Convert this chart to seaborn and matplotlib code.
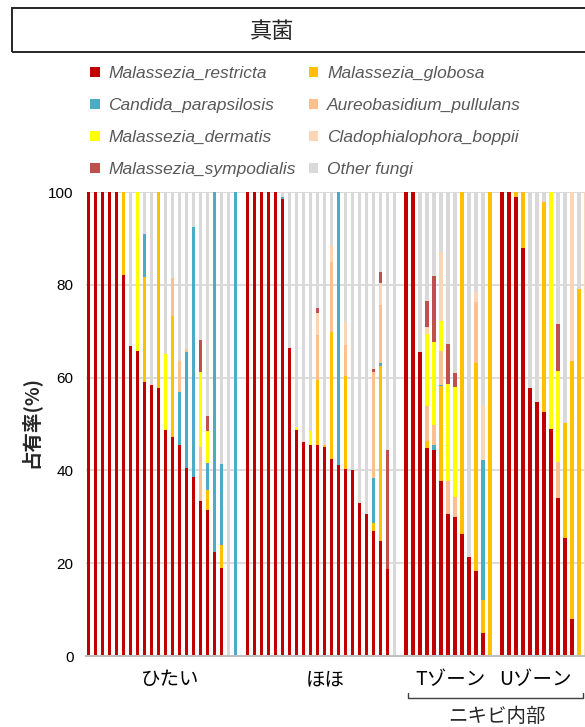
import numpy as np
import pandas as pd
import matplotlib
matplotlib.use("Agg")
import matplotlib.pyplot as plt
import matplotlib.transforms as mtransforms
from matplotlib.patches import Patch, Rectangle
from matplotlib.lines import Line2D
from matplotlib.font_manager import FontProperties
import seaborn as sns

# ---------------- data ----------------
species = ["Malassezia_restricta", "Malassezia_globosa", "Candida_parapsilosis",
           "Aureobasidium_pullulans", "Malassezia_dermatis", "Cladophialophora_boppii",
           "Malassezia_sympodialis", "Other fungi"]
colors = ["#C00000", "#FFC000", "#4BACC6", "#FAC090", "#FFFF00", "#FCD5B5",
          "#C0504D", "#D9D9D9"]

group_names = ["ひたい", "ほほ", "Tゾーン", "Uゾーン"]
group_sizes = [22, 22, 13, 13]
bracket_label = "ニキビ内部"
title = "真菌"
y_label = "占有率(%)"
y_ticks = [0, 20, 40, 60, 80, 100]

restricta = [100, 100, 100, 100, 100, 82.1, 66.9, 65.8, 59.1, 58.5, 57.7, 48.7, 47.1, 45.5, 40.6, 38.6, 33.4, 31.5, 22.5, 19.0, 0, 0,
             100, 100, 100, 100, 100, 98.5, 66.3, 48.6, 46.2, 45.5, 45.5, 45.0, 42.4, 41.2, 40.3, 40.1, 32.9, 30.6, 26.9, 24.8, 18.8, 0,
             100, 100, 65.6, 44.9, 44.5, 37.7, 30.7, 30.0, 26.4, 21.3, 18.4, 4.9, 0,
             100, 100, 98.9, 88.0, 57.7, 54.7, 52.5, 48.9, 34.0, 25.5, 8.0, 0, 0]
globosa = [0, 0, 0, 0, 0, 17.9, 0, 0, 22.5, 0, 42.3, 0, 26.2, 0, 0, 0, 0, 4.3, 0, 4.9, 0, 0,
           0, 0, 0, 0, 0, 0, 0, 0, 0, 0, 14.0, 0.4, 27.5, 0, 20.0, 0, 0, 0, 1.8, 37.7, 0, 0,
           0, 0, 0, 1.4, 0, 20.5, 0, 0, 73.6, 0, 44.7, 7.2, 100,
           0, 0, 1.1, 12.0, 0, 0, 45.4, 0, 0, 24.8, 55.6, 79.2, 0]
candida = [0, 0, 0, 0, 0, 0, 0, 0, 9.3, 0, 0, 0, 0, 11.3, 25.0, 53.9, 0, 5.7, 77.5, 17.4, 0, 100,
           0, 0, 0, 0, 0, 0.5, 0, 0, 0, 0, 0, 0, 0, 58.8, 0, 0, 0, 0, 9.7, 0.7, 0, 0,
           0, 0, 0, 0, 1.0, 0.3, 0, 0, 0, 0, 0, 30.1, 0,
           0, 0, 0, 0, 0, 0, 0, 0, 0, 0, 0, 0, 0]
aureobasidium = [0, 0, 0, 0, 0, 0, 0, 0, 0, 0, 0, 0, 8.1, 6.8, 0.5, 0, 11.7, 0, 0, 0, 0, 0,
                 0, 0, 0, 0, 0, 0, 0, 0, 0, 0, 9.7, 0, 15.1, 0, 6.7, 0, 0, 0, 22.9, 12.4, 0, 0,
                 0, 0, 0, 7.6, 4.3, 7.3, 7.1, 4.3, 0, 0, 13.3, 0, 0,
                 0, 0, 0, 0, 0, 0, 0, 0, 7.9, 0, 0, 0, 0]
dermatis = [0, 0, 0, 0, 0, 0, 0, 34.2, 0, 0, 0, 16.4, 0, 0, 0, 0, 16.0, 6.9, 0, 0, 0, 0,
            0, 0, 0, 0, 0, 0, 0, 0.8, 0, 2.9, 0, 0, 0, 0, 0, 0, 0, 0, 0, 0, 0, 0,
            0, 0, 0, 15.5, 17.9, 6.3, 20.8, 23.7, 0, 0, 0, 0, 0,
            0, 0, 0, 0, 0, 0, 0, 51.1, 19.6, 0, 0, 0, 0]
cladophialophora = [0, 0, 0, 0, 0, 0, 0, 0, 0, 0, 0, 0, 0, 0, 0, 0, 0, 0, 0, 0, 0, 0,
                    0, 0, 0, 0, 0, 0, 0, 0, 0, 0, 4.8, 0, 3.6, 0, 4.9, 0, 0, 0, 0, 4.7, 0, 0,
                    0, 0, 0, 1.4, 0, 14.9, 0, 0, 0, 0, 2.0, 12.0, 0,
                    0, 0, 0, 0, 0, 0, 0, 0, 0, 0, 36.4, 0, 100]
sympodialis = [0, 0, 0, 0, 0, 0, 0, 0, 0, 0, 0, 0, 0, 0, 0, 0, 7.0, 3.3, 0, 0, 0, 0,
               0, 0, 0, 0, 0, 0, 0, 0, 0, 0, 1.0, 0, 0, 0, 0, 0, 0, 0, 0.5, 2.5, 25.5, 0,
               0, 0, 0, 5.7, 14.2, 0, 8.6, 2.9, 0, 0, 0, 0, 0,
               0, 0, 0, 0, 0, 0, 0, 0, 10.0, 0, 0, 0, 0]
other = [0, 0, 0, 0, 0, 0, 33.1, 0, 9.1, 41.5, 0, 34.9, 18.6, 36.4, 33.9, 7.5, 31.9, 48.3, 0, 58.7, 100, 0,
         0, 0, 0, 0, 0, 1.0, 33.7, 50.6, 53.8, 51.6, 25.0, 54.6, 11.4, 0, 28.1, 59.9, 67.1, 69.4, 38.2, 17.2, 55.7, 100,
         0, 0, 34.4, 23.5, 18.1, 13.0, 32.8, 39.1, 0, 78.7, 21.6, 45.8, 0,
         0, 0, 0, 0, 42.3, 45.3, 2.1, 0, 28.5, 49.7, 0, 20.8, 0]

series = [restricta, globosa, candida, aureobasidium, dermatis,
          cladophialophora, sympodialis, other]

# ---------------- layout ----------------
GAP = 0.7
positions = []
start = 0.0
for g, n in enumerate(group_sizes):
    positions.extend(start + np.arange(n))
    start += n + GAP
positions = np.array(positions)

values = np.array(series, dtype=float)          # (8, nbars)
cum = np.cumsum(values, axis=0)

df = pd.DataFrame({"pos": positions})
for k, sp in enumerate(species):
    df[sp] = cum[k]

sns.set_theme(style="white")
plt.rcParams["font.family"] = ["Liberation Sans", "Noto Sans CJK JP", "DejaVu Sans"]
cjk = ["Noto Sans CJK JP", "DejaVu Sans"]

W, H = 585, 727
fig = plt.figure(figsize=(W / 100, H / 100), dpi=100)
ax_left, ax_right, ax_top, ax_bottom = 86, 585, 192, 656
ax = fig.add_axes([ax_left / W, 1 - ax_bottom / H, (ax_right - ax_left) / W,
                   (ax_bottom - ax_top) / H])

pitch_px = 7.0
first_px = 88.3

ax.set_axisbelow(True)
ax.yaxis.grid(True, color="#D9D9D9", linewidth=1.3)
ax.xaxis.grid(False)

for k in range(len(species) - 1, -1, -1):
    sns.barplot(data=df, x="pos", y=species[k], native_scale=True,
                color=colors[k], saturation=1, width=0.48, linewidth=0,
                errorbar=None, ax=ax)

ax.set_xlim((ax_left - first_px) / pitch_px, (ax_right - first_px) / pitch_px)
ax.set_ylim(0, 100)
ax.set_yticks(y_ticks)
ax.set_yticklabels([str(t) for t in y_ticks], fontsize=11, color="#000000")
ax.tick_params(axis="y", length=0, pad=9)

# group labels as x tick labels
label_px = [170, 325, 450, 535.5]
label_x = [(p - first_px) / pitch_px for p in label_px]
ax.set_xticks(label_x)
ax.set_xticklabels(group_names, fontfamily=cjk, fontsize=14, color="#000000")
ax.tick_params(axis="x", length=0, pad=9.5)
ax.set_xlabel("")
ax.set_ylabel("")

for s in ["left", "right", "top"]:
    ax.spines[s].set_visible(False)
ax.spines["bottom"].set_color("#BFBFBF")
ax.spines["bottom"].set_linewidth(1.5)

# y label
fig.text(30 / W, 1 - 422 / H, y_label, rotation=90, ha="center", va="center",
         fontsize=14, fontweight="bold", family=cjk)

# bracket under Tゾーン / Uゾーン
trans = mtransforms.blended_transform_factory(ax.transData, fig.transFigure)
bx0 = (408.3 - first_px) / pitch_px
bx1 = (583.3 - first_px) / pitch_px
yb = 1 - 698 / H
yt = 1 - 693 / H
ax.add_line(Line2D([bx0, bx0, bx1, bx1], [yt, yb, yb, yt], transform=trans,
                   color="#404040", linewidth=1.0, clip_on=False))
fig.text(497 / W, 1 - 716 / H, bracket_label, ha="center", va="center",
         fontsize=14, family=cjk)

# title box
fig.add_artist(Rectangle((12 / W, 1 - 52 / H), 1.2, 44 / H, transform=fig.transFigure,
                         fill=False, edgecolor="#262626", linewidth=1.4))
fig.text(272 / W, 1 - 31 / H, title, ha="center", va="center", fontsize=16,
         family=cjk)

# legend (row-major order = stacking order; matplotlib fills column-wise)
order = [0, 2, 4, 6, 1, 3, 5, 7]
handles = [Patch(facecolor=colors[i], edgecolor="none") for i in order]
labels = [species[i] for i in order]
fig.legend(handles, labels, ncol=2, loc="upper left",
           bbox_to_anchor=(90 / W, 1 - 66 / H), frameon=False,
           prop=FontProperties(family="Liberation Sans", style="italic", size=12.5),
           labelcolor="#595959", handlelength=0.55, handleheight=0.55,
           handletextpad=0.5, columnspacing=0.75, labelspacing=0.98,
           borderpad=0, borderaxespad=0)

fig.savefig("out.png", dpi=100)
